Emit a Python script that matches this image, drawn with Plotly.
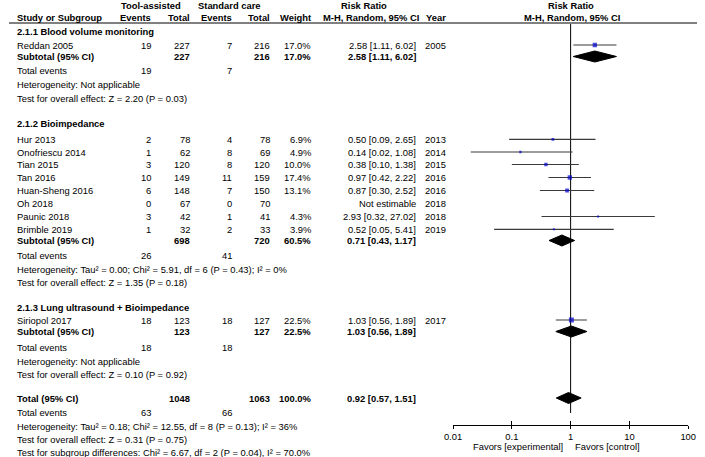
import math
import plotly.graph_objects as go

# ---------------- data ----------------
studies = ["Reddan 2005", "Hur 2013", "Onofriescu 2014", "Tian 2015", "Tan 2016",
           "Huan-Sheng 2016", "Oh 2018", "Paunic 2018", "Brimble 2019", "Siriopol 2017"]
exp_events = [19, 2, 1, 3, 10, 6, 0, 3, 1, 18]
exp_total = [227, 78, 62, 120, 149, 148, 67, 42, 32, 123]
ctl_events = [7, 4, 8, 8, 11, 7, 0, 1, 2, 18]
ctl_total = [216, 78, 69, 120, 159, 150, 70, 41, 33, 127]
weights = [17.0, 6.9, 4.9, 10.0, 17.4, 13.1, None, 4.3, 3.9, 22.5]
rr = [2.58, 0.50, 0.14, 0.38, 0.97, 0.87, None, 2.93, 0.52, 1.03]
rr_lo = [1.11, 0.09, 0.02, 0.10, 0.42, 0.30, None, 0.32, 0.05, 0.56]
rr_hi = [6.02, 2.65, 1.08, 1.38, 2.22, 2.52, None, 27.02, 5.41, 1.89]
years = [2005, 2013, 2014, 2015, 2016, 2016, 2018, 2018, 2019, 2017]

group_names = ["2.1.1 Blood volume monitoring", "2.1.2 Bioimpedance",
               "2.1.3 Lung ultrasound + Bioimpedance"]
sub_exp_total = [227, 698, 123]
sub_ctl_total = [216, 720, 127]
sub_exp_events = [19, 26, 18]
sub_ctl_events = [7, 41, 18]
sub_weight = [17.0, 60.5, 22.5]
sub_rr = [2.58, 0.71, 1.03]
sub_lo = [1.11, 0.43, 0.56]
sub_hi = [6.02, 1.17, 1.89]
sub_het = ["Heterogeneity: Not applicable",
           "Heterogeneity: Tau² = 0.00; Chi² = 5.91, df = 6 (P = 0.43); I² = 0%",
           "Heterogeneity: Not applicable"]
sub_test = ["Test for overall effect: Z = 2.20 (P = 0.03)",
            "Test for overall effect: Z = 1.35 (P = 0.18)",
            "Test for overall effect: Z = 0.10 (P = 0.92)"]

total_exp_total = 1048
total_ctl_total = 1063
total_exp_events = 63
total_ctl_events = 66
total_weight = 100.0
total_rr = 0.92
total_lo = 0.57
total_hi = 1.51
total_het = "Heterogeneity: Tau² = 0.18; Chi² = 12.55, df = 8 (P = 0.13); I² = 36%"
total_test = "Test for overall effect: Z = 0.31 (P = 0.75)"
subgroup_test = "Test for subgroup differences: Chi² = 6.67, df = 2 (P = 0.04), I² = 70.0%"

axis_ticks = [0.01, 0.1, 1, 10, 100]
axis_ticktext = ["0.01", "0.1", "1", "10", "100"]
favors = ["Favors [experimental]", "Favors [control]"]
null_value = 1

# ---------------- layout (pixel positions) ----------------
W, H = 705, 457
study_y = [45, 139.3, 152, 164.5, 177.5, 190.5, 203.5, 216.5, 229.3, 320]
group_title_y = [31, 123.5, 307]
subtotal_y = [56.5, 240.5, 331.5]
events_y = [70.5, 255.5, 347.5]
het_y = [84.5, 269, 361]
test_y = [98.5, 282.5, 374]
total_y = 398
total_events_y = 412.5
total_het_y = 426
total_test_y = 439.5
subgroup_test_y = 452.5
header1_y = 5
header2_y = 17
rule_y = 23
null_line_end = 413

x_name = 8
x_ee, x_et, x_ce, x_ct, x_w, x_rr, x_year = 146, 185, 228, 267, 309, 417, 448
FONT = "Liberation Sans"
FS = 9.4

annotations = []


def ann(text, px, py, anchor="left", bold=False):
    annotations.append(dict(
        text=f"<b>{text}</b>" if bold else str(text),
        x=px / W, xref="paper", y=py, yref="y",
        xanchor=anchor, yanchor="middle", showarrow=False,
        borderpad=0, borderwidth=0,
        font=dict(family=FONT, size=FS, color="black")))


# headers
ann("Tool-assisted", 145, header1_y, "center", True)
ann("Standard care", 226, header1_y, "center", True)
ann("Risk Ratio", 364, header1_y, "center", True)
ann("Risk Ratio", 576, header1_y, "center", True)
ann("Study or Subgroup", x_name, header2_y, "left", True)
ann("Events", x_ee, header2_y, "right", True)
ann("Total", x_et, header2_y, "right", True)
ann("Events", x_ce, header2_y, "right", True)
ann("Total", x_ct, header2_y, "right", True)
ann("Weight", x_w, header2_y, "right", True)
ann("M-H, Random, 95% CI", 420, header2_y, "right", True)
ann("Year", x_year, header2_y, "right", True)
ann("M-H, Random, 95% CI", 577, header2_y, "center", True)

# study rows
for i, s in enumerate(studies):
    y = study_y[i]
    ann(s, x_name, y)
    ann(exp_events[i], x_ee, y, "right")
    ann(exp_total[i], x_et, y, "right")
    ann(ctl_events[i], x_ce, y, "right")
    ann(ctl_total[i], x_ct, y, "right")
    if weights[i] is not None:
        ann(f"{weights[i]:.1f}%", x_w, y, "right")
    if rr[i] is not None:
        ann(f"{rr[i]:.2f} [{rr_lo[i]:.2f}, {rr_hi[i]:.2f}]", x_rr, y, "right")
    else:
        ann("Not estimable", x_rr, y, "right")
    ann(years[i], x_year, y, "right")

# subgroup rows
for g, name in enumerate(group_names):
    ann(name, x_name, group_title_y[g], "left", True)
    ann("Subtotal (95% CI)", x_name, subtotal_y[g], "left", True)
    ann(sub_exp_total[g], x_et, subtotal_y[g], "right", True)
    ann(sub_ctl_total[g], x_ct, subtotal_y[g], "right", True)
    ann(f"{sub_weight[g]:.1f}%", x_w, subtotal_y[g], "right", True)
    ann(f"{sub_rr[g]:.2f} [{sub_lo[g]:.2f}, {sub_hi[g]:.2f}]", x_rr, subtotal_y[g], "right", True)
    ann("Total events", x_name, events_y[g])
    ann(sub_exp_events[g], x_ee, events_y[g], "right")
    ann(sub_ctl_events[g], x_ce, events_y[g], "right")
    ann(sub_het[g], x_name, het_y[g])
    ann(sub_test[g], x_name, test_y[g])

# overall
ann("Total (95% CI)", x_name, total_y, "left", True)
ann(total_exp_total, x_et, total_y, "right", True)
ann(total_ctl_total, x_ct, total_y, "right", True)
ann(f"{total_weight:.1f}%", x_w, total_y, "right", True)
ann(f"{total_rr:.2f} [{total_lo:.2f}, {total_hi:.2f}]", x_rr, total_y, "right", True)
ann("Total events", x_name, total_events_y)
ann(total_exp_events, x_ee, total_events_y, "right")
ann(total_ctl_events, x_ce, total_events_y, "right")
ann(total_het, x_name, total_het_y)
ann(total_test, x_name, total_test_y)
ann(subgroup_test, x_name, subgroup_test_y)

# favors labels
ann(favors[0], 568, 446.5, "right")
ann(favors[1], 580, 446.5, "left")

fig = go.Figure()

# null line
fig.add_trace(go.Scatter(x=[null_value, null_value], y=[rule_y, null_line_end], mode="lines",
                         line=dict(color="black", width=1), hoverinfo="skip", showlegend=False))

# CI lines
for i in range(len(studies)):
    if rr[i] is None:
        continue
    fig.add_trace(go.Scatter(x=[rr_lo[i], rr_hi[i]], y=[study_y[i], study_y[i]], mode="lines",
                             line=dict(color="#3a3a3a", width=1.2), hoverinfo="skip",
                             showlegend=False))

# squares
pts = [i for i in range(len(studies)) if rr[i] is not None]
fig.add_trace(go.Scatter(x=[rr[i] for i in pts], y=[study_y[i] for i in pts], mode="markers",
                         marker=dict(symbol="square", color="#0000CC",
                                     size=[math.sqrt(weights[i]) * 1.05 for i in pts],
                                     line=dict(width=0)),
                         hoverinfo="skip", showlegend=False))

# diamonds
half_h = 5.5
diamonds = [(sub_rr[g], sub_lo[g], sub_hi[g], subtotal_y[g]) for g in range(len(group_names))]
diamonds.append((total_rr, total_lo, total_hi, total_y))
for est, lo, hi, yc in diamonds:
    fig.add_trace(go.Scatter(x=[lo, est, hi, est, lo], y=[yc, yc - half_h, yc, yc + half_h, yc],
                             mode="lines", fill="toself", fillcolor="black",
                             line=dict(color="black", width=1), hoverinfo="skip",
                             showlegend=False))

axis_pos = (H - 425) / H
common_x = dict(type="log", range=[-2, 2], domain=[455 / W, 696 / W], anchor="free",
                position=axis_pos, showgrid=False, zeroline=False, showline=True,
                linecolor="black", linewidth=1, tickvals=axis_ticks, tickcolor="black",
                tickwidth=1)

fig.update_layout(
    width=W, height=H,
    margin=dict(l=0, r=0, t=0, b=0),
    paper_bgcolor="white", plot_bgcolor="white",
    font=dict(family=FONT, size=FS, color="black"),
    xaxis=dict(**common_x, ticktext=axis_ticktext, ticks="outside", ticklen=3,
               tickfont=dict(family=FONT, size=FS, color="black")),
    xaxis2=dict(**common_x, overlaying="x", ticks="inside", ticklen=4, showticklabels=False),
    yaxis=dict(range=[H, 0], domain=[0, 1], visible=False, fixedrange=True),
    annotations=annotations,
    shapes=[dict(type="line", xref="paper", x0=0, x1=1, yref="y", y0=rule_y, y1=rule_y,
                 line=dict(color="#808080", width=2))],
    showlegend=False,
)
# dummy trace to make xaxis2 render
fig.add_trace(go.Scatter(x=[null_value], y=[None], xaxis="x2", yaxis="y", showlegend=False,
                         hoverinfo="skip"))

fig.write_html("out.html", config={"displayModeBar": False, "staticPlot": True},
               post_script="document.body.style.margin='0';document.body.style.padding='0';"
                           "document.body.style.overflow='hidden';")
